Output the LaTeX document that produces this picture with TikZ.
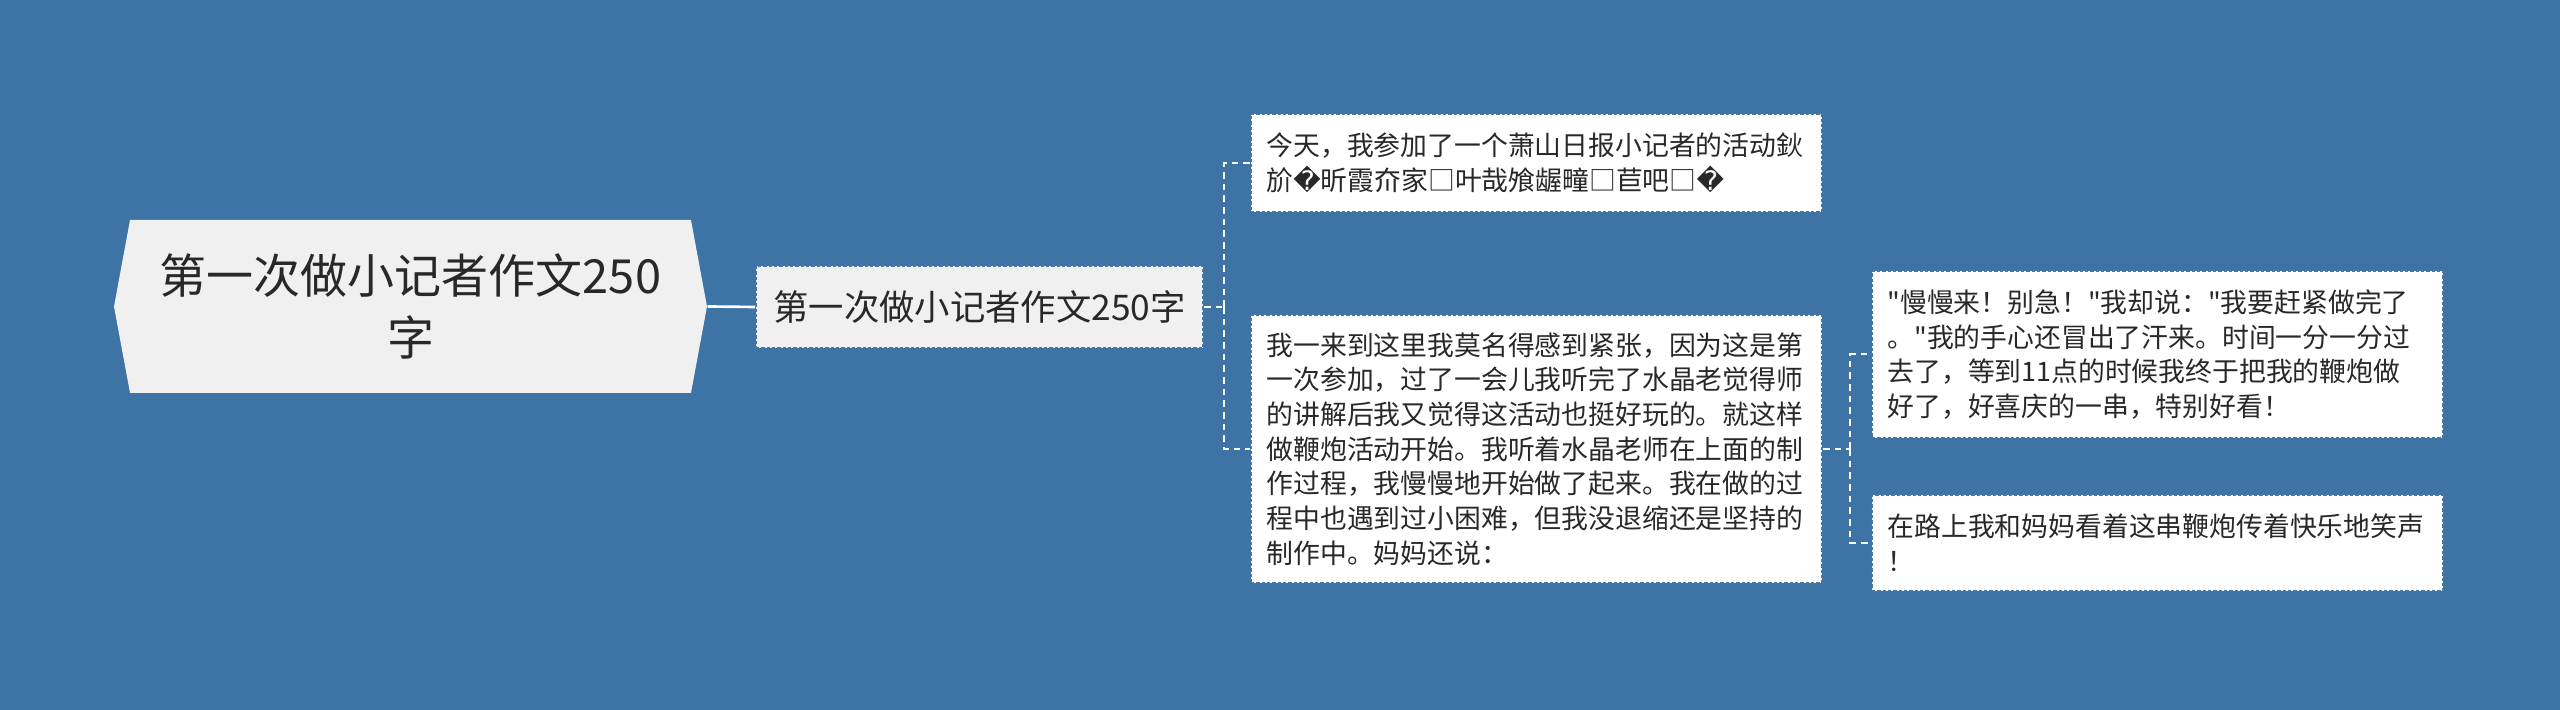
\documentclass[tikz,border=0pt]{standalone}
\usepackage{fontspec}
\setmainfont{Noto Sans CJK SC}
\newfontfamily\repfont{DejaVu Sans}
\usetikzlibrary{shapes.symbols}

\definecolor{bgblue}{RGB}{62,115,165}
\definecolor{edgeblue}{RGB}{70,118,165}
\definecolor{rootgray}{RGB}{240,240,240}
\definecolor{textgray}{RGB}{40,40,40}

% straight quote, loaded without the TeX mapping
\font\quotefont="Noto Sans CJK SC" at 8.05pt
\newcommand{\sq}{{\quotefont\char34}}
\newcommand{\bad}{{\repfont\char"FFFD}}

\begin{document}
\begin{tikzpicture}[x=1pt, y=-1pt,
    link/.style={white, line width=0.8pt},
    dlink/.style={white, line width=0.6pt, dash pattern=on 2pt off 1.5pt},
    leaf/.style={draw=edgeblue, fill=white, line width=0.5pt, dash pattern=on 1pt off 0.6pt,
      text=textgray, font=\fontsize{8.05}{10.4}\selectfont, align=left,
      text width=162pt, inner xsep=4.7pt, inner ysep=0pt, minimum width=171.3pt}]
        \fill [bgblue] (0,0) rectangle (768,213);
        \useasboundingbox (0,0) rectangle (768,213);

        \node (root) [shape=signal, signal to=west and east, signal pointer angle=159,
          fill=rootgray, text=textgray, inner sep=0pt, minimum width=177.9pt, minimum height=51.9pt,
          align=center, font=\fontsize{14.1}{18.6}\selectfont] at (123.15,91.95)
          {第一次做小记者作文250\\字};

        \node (main) [draw=edgeblue, fill=rootgray, line width=0.5pt, dash pattern=on 1pt off 0.6pt,
          text=textgray, inner sep=0pt, minimum width=134.1pt, minimum height=24.6pt,
          font=\fontsize{10.6}{13}\selectfont] at (293.85,92.1) {第一次做小记者作文250字};

        \node (intro) [leaf, minimum height=29.4pt] at (460.95,48.9)
          {今天，我参加了一个萧山日报小记者的活动鈥\\斺\bad 昕霞夼家□叶哉飧龌疃□苣吧□\bad};
        \node (story) [leaf, minimum height=80.4pt] at (460.95,134.7)
          {我一来到这里我莫名得感到紧张，因为这是第\\一次参加，过了一会儿我听完了水晶老觉得师\\的讲解后我又觉得这活动也挺好玩的。就这样\\做鞭炮活动开始。我听着水晶老师在上面的制\\作过程，我慢慢地开始做了起来。我在做的过\\程中也遇到过小困难，但我没退缩还是坚持的\\制作中。妈妈还说：};
        \node (quote) [leaf, minimum height=50.1pt] at (647.25,106.35)
          {\sq 慢慢来！别急！\sq 我却说：\sq 我要赶紧做完了\\。\sq 我的手心还冒出了汗来。时间一分一分过\\去了，等到11点的时候我终于把我的鞭炮做\\好了，好喜庆的一串，特别好看！};
        \node (road) [leaf, minimum height=28.8pt] at (647.25,162.9)
          {在路上我和妈妈看着这串鞭炮传着快乐地笑声\\！};

        \coordinate (fork1) at (367.2,92.1);
        \coordinate (fork2) at (555,134.7);

        \draw [link] (root.east) -- (main.west);
        \draw [dlink] (main.east) -- (fork1);
        \draw [dlink] (fork1) |- (intro.west);
        \draw [dlink] (fork1) |- (story.west);
        \draw [dlink] (story.east) -- (fork2);
        \draw [dlink] (fork2) |- (quote.west);
        \draw [dlink] (fork2) |- (road.west);
      \end{tikzpicture}
\end{document}
